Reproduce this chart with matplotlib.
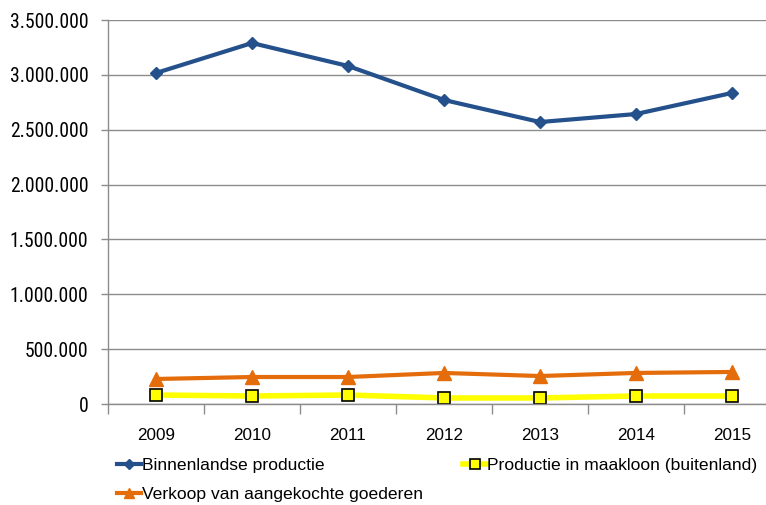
import matplotlib
matplotlib.use("Agg")
import matplotlib.pyplot as plt
import numpy as np

years = ["2009", "2010", "2011", "2012", "2013", "2014", "2015"]
binnenlandse = [3017000, 3290000, 3081000, 2771000, 2570000, 2643000, 2835000]
maakloon = [82000, 73000, 82000, 55000, 55000, 73000, 73000]
verkoop = [228000, 246000, 246000, 283000, 255000, 283000, 292000]
yticks = [0, 500000, 1000000, 1500000, 2000000, 2500000, 3000000, 3500000]

plt.rcParams['font.family'] = ['Liberation Sans', 'DejaVu Sans']
narrow = ["Roboto Condensed", "Liberation Sans", "DejaVu Sans"]

W, H = 766, 505
fig = plt.figure(figsize=(W / 100, H / 100), dpi=100)
left, right, top, bottom = 108, 780, 20, 404
ax = fig.add_axes([left / W, 1 - bottom / H, (right - left) / W, (bottom - top) / H])

x = np.arange(len(years))
grid_c = "#8c8c8c"

l1, = ax.plot(x, binnenlandse, color="#24508C", lw=3, marker="D", ms=6.5,
              mfc="#24508C", mec="#24508C", label="Binnenlandse productie")
l2, = ax.plot(x, maakloon, color="#FFFF00", lw=4, marker="s", ms=9,
              mfc="#FFFF00", mec="#000000", mew=1.2, label="Productie in maakloon (buitenland)")
l3, = ax.plot(x, verkoop, color="#E46C0A", lw=3, marker="^", ms=9.5,
              mfc="#E46C0A", mec="#E46C0A", label="Verkoop van aangekochte goederen")

ax.set_ylim(0, 3500000)
ax.set_yticks(yticks)
ax.set_yticklabels([f"{v:,}".replace(",", ".") for v in yticks], family=narrow, fontsize=14.1)
ax.set_xlim(-0.5, len(years) - 0.5)
ax.set_xticks(np.arange(-0.5, len(years), 1.0))
ax.set_xticklabels([])
ax.set_xticks(x, minor=True)
ax.set_xticklabels(years, minor=True)
ax.tick_params(axis="x", which="major", length=7, color=grid_c, width=1, direction="out")
ax.tick_params(axis="x", which="minor", length=0, labelsize=12.3, pad=17)
ax.tick_params(axis="y", length=5, color=grid_c, width=1, pad=9)

ax.grid(axis="y", color=grid_c, lw=1)
ax.set_axisbelow(True)
for s in ["top", "right"]:
    ax.spines[s].set_visible(False)
for s in ["left", "bottom"]:
    ax.spines[s].set_color(grid_c)
    ax.spines[s].set_linewidth(1)

leg = fig.legend(handles=[l1, l3, l2], ncol=2, loc="upper left",
                 bbox_to_anchor=(117 / W, 1 - 458 / H), frameon=False,
                 fontsize=12.6, handlelength=1.35, handletextpad=0.05,
                 columnspacing=2.3, labelspacing=0.75, borderaxespad=0,
                 borderpad=0, markerscale=0.75)

fig.savefig("out.png", dpi=100)
